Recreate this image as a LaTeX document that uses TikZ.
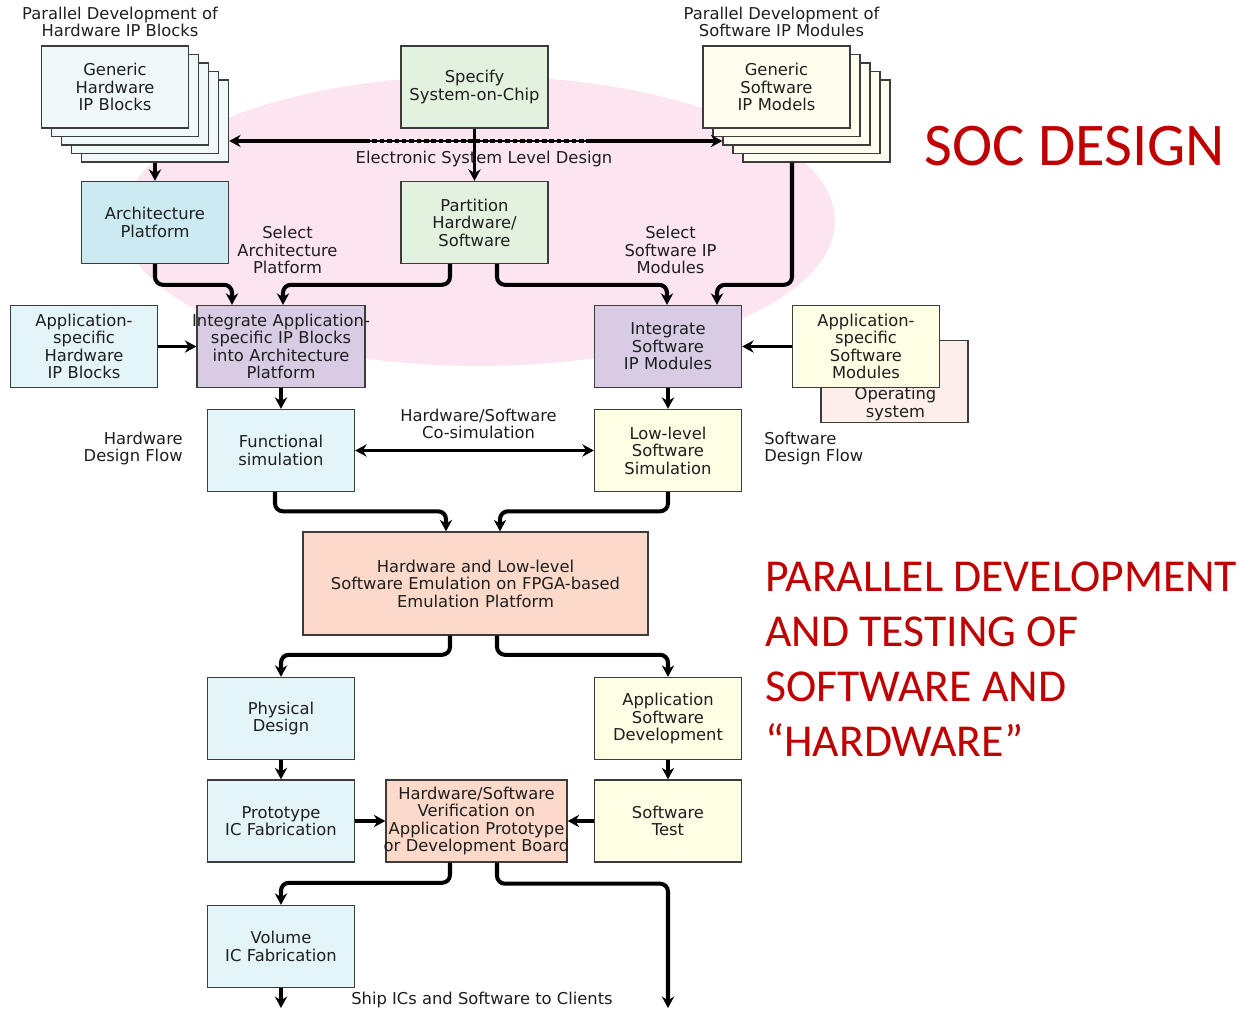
\documentclass[tikz,border=0pt]{standalone}
\usepackage{fontspec}
\setmainfont{DejaVu Sans}
\newfontfamily\titlefont{Carlito}
\usetikzlibrary{arrows.meta,calc}

\definecolor{socpink}{RGB}{252,228,240}
\definecolor{hwgenfill}{RGB}{240,248,250}
\definecolor{archfill}{RGB}{204,234,242}
\definecolor{specfill}{RGB}{226,242,222}
\definecolor{swgenfill}{RGB}{254,254,238}
\definecolor{intfill}{RGB}{216,204,228}
\definecolor{hwfill}{RGB}{228,245,249}
\definecolor{swfill}{RGB}{254,254,228}
\definecolor{osfill}{RGB}{253,238,233}
\definecolor{emufill}{RGB}{253,217,202}
\definecolor{boxline}{RGB}{60,60,60}
\definecolor{txt}{RGB}{30,30,30}
\definecolor{titlered}{RGB}{192,0,0}

\newcommand{\wideline}[1]{\makebox[\linewidth][c]{#1}}

\begin{document}
\begin{tikzpicture}[x=0.02cm, y=-0.02cm,
    box/.style={draw=boxline, line width=0.8pt, inner sep=0pt, align=center, text=txt,
      font=\fontsize{9.3}{10}\selectfont, minimum height=1.64cm, text width=2.94cm},
    flow/.style={line width=2.3pt, rounded corners=4.5pt, -{Stealth[length=6.5pt,width=7pt]}},
    note/.style={align=center, text=txt, font=\fontsize{9.3}{10}\selectfont, inner sep=0pt},
    title/.style={text=titlered, inner sep=0pt, align=left}]

  \useasboundingbox (0,0) rectangle (1252,1010);

  % SoC design area
  \fill[socpink] (478.5,221) ellipse [x radius=7.13cm, y radius=2.9cm];

  % stacks of generic IP
  \foreach \i in {4,3,2,1} {
    \node[box, fill=hwgenfill] (hwgen\i) at (115+10*\i,87+8.5*\i) {};
    \node[box, fill=swgenfill] (swgen\i) at (776.5+10*\i,87+8.5*\i) {};
  }
  \node[box, fill=hwgenfill] (hwgen) at (115,87) {Generic\\Hardware\\IP Blocks};
  \node[box, fill=swgenfill] (swgen) at (776.5,87) {Generic\\Software\\IP Models};
  \node[note] (hwpar) at (120,22) {Parallel Development of\\Hardware IP Blocks};
  \node[note] (swpar) at (781.5,22) {Parallel Development of\\Software IP Modules};

  % top row
  \node[box, fill=specfill] (soc) at (474.5,87) {Specify\\\wideline{System-on-Chip}};
  \node[box, fill=archfill] (arch) at (155,222.5) {Architecture\\Platform};
  \node[box, fill=specfill] (part) at (474.5,222.5) {Partition\\Hardware/\\Software};

  % electronic system level line
  \coordinate (esl) at (365,141);
  \coordinate (esr) at (590,141);
  \draw[line width=0.8pt] (esl) -- (esr);
  \draw[line width=2.1pt, dash pattern=on 2.6pt off 1.6pt] (esl) -- (esr);
  \draw[flow] (esl) -- (esl -| hwgen4.east);
  \draw[flow] (esr) -- (esr -| swgen2.west);
  \draw[flow, line width=2pt] (soc.south) -- (part.north);
  \node[note] (esltext) at (484,159) {Electronic System Level Design};
  \draw[flow, line width=2pt] (hwgen4.south) -- (arch.north);

  \node[note] (selarch) at (287.5,250) {Select\\Architecture\\Platform};
  \node[note] (selsw) at (670.5,250) {Select\\Software IP\\Modules};

  % integration row
  \node[box, fill=hwfill] (apphw) at (84,346.5) {Application-\\specific\\Hardware\\IP Blocks};
  \node[box, fill=intfill, text width=3.36cm] (inthw) at (281,346.5) {\wideline{Integrate Application-}\\\wideline{specific IP Blocks}\\\wideline{into Architecture}\\Platform};
  \node[box, fill=intfill] (intsw) at (668,346.5) {Integrate\\Software\\IP Modules};
  \node[box, fill=osfill] (os) at (894.5,381.5) {};
  \node[note] (ostext) at ($(os.south)+(1,-19)$) {Operating\\system};
  \node[box, fill=swfill] (appsw) at (866,346.5) {Application-\\specific\\Software\\Modules};

  \draw[flow] (arch.south) |- ($(inthw.north)+(-49,-20)$) -- ($(inthw.north)+(-49,0)$);
  \draw[flow] ($(part.south)+(-24.5,0)$) |- ($(inthw.north)+(2,-20)$) -- ($(inthw.north)+(2,0)$);
  \draw[flow] ($(part.south)+(22.5,0)$) |- ($(intsw.north)+(-1,-20)$) -- ($(intsw.north)+(-1,0)$);
  \draw[flow] ($(swgen4.south)+(-24.5,0)$) |- ($(intsw.north)+(49,-20)$) -- ($(intsw.north)+(49,0)$);
  \draw[flow, line width=2pt] (apphw.east) -- (inthw.west);
  \draw[flow, line width=2pt] (appsw.west) -- (intsw.east);

  % simulation row
  \node[box, fill=hwfill] (funcsim) at (281,450.5) {Functional\\simulation};
  \node[box, fill=swfill] (llsim) at (668,450.5) {Low-level\\Software\\Simulation};
  \draw[flow, line width=2pt] (inthw.south) -- (funcsim.north);
  \draw[flow, line width=2pt] (intsw.south) -- (llsim.north);
  \draw[flow, line width=2pt, {Stealth[length=6.5pt,width=7pt]}-{Stealth[length=6.5pt,width=7pt]}] (funcsim.east) -- (llsim.west);
  \node[note] (cosim) at (478.5,424) {Hardware/Software\\Co-simulation};
  \node[note, align=right, anchor=east] (hwflow) at (183,448.5) {Hardware\\Design Flow};
  \node[note, align=left, anchor=west] (swflow) at (764,448.5) {Software\\Design Flow};

  % emulation
  \node[box, fill=emufill, text width=6.9cm, minimum height=2.06cm] (emu) at (475.5,583.5) {Hardware and Low-level\\Software Emulation on FPGA-based\\Emulation Platform};
  \draw[flow] ($(funcsim.south)+(-6,0)$) |- ($(emu.north)+(-29.5,-20)$) -- ($(emu.north)+(-29.5,0)$);
  \draw[flow] (llsim.south) |- ($(emu.north)+(24.5,-20)$) -- ($(emu.north)+(24.5,0)$);

  % implementation
  \node[box, fill=hwfill] (phys) at (281,718.5) {Physical\\Design};
  \node[box, fill=swfill] (appdev) at (668,718.5) {Application\\Software\\Development};
  \node[box, fill=hwfill] (proto) at (281,821) {Prototype\\IC Fabrication};
  \node[box, fill=emufill, text width=3.62cm] (verif) at (476.5,821) {Hardware/Software\\Verification on\\\wideline{Application Prototype}\\\wideline{or Development Board}};
  \node[box, fill=swfill] (swtest) at (668,821) {Software\\Test};
  \node[box, fill=hwfill] (vol) at (281,946.5) {Volume\\IC Fabrication};

  \draw[flow] ($(emu.south)+(-25.5,0)$) |- ($(phys.north)+(0,-22)$) -- (phys.north);
  \draw[flow] ($(emu.south)+(21.5,0)$) |- ($(appdev.north)+(0,-22)$) -- (appdev.north);
  \draw[flow, line width=2pt] (phys.south) -- (proto.north);
  \draw[flow, line width=2pt] (appdev.south) -- (swtest.north);
  \draw[flow, line width=2pt] (proto.east) -- (verif.west);
  \draw[flow, line width=2pt] (swtest.west) -- (verif.east);

  % shipping
  \coordinate (volend) at (281,1008);
  \coordinate (shipend) at (668,1008);
  \draw[flow] ($(verif.south)+(-26.5,0)$) |- ($(vol.north)+(0,-22)$) -- (vol.north);
  \draw[flow] ($(verif.south)+(20.5,0)$) |- ($(swtest.south)+(0,21)$) -- (shipend);
  \draw[flow, line width=2pt] (vol.south) -- (volend);
  \node[note] (ship) at (482,1000) {Ship ICs and Software to Clients};

  % headings
  \node[title, font=\titlefont\fontsize{34.5}{40}\selectfont, anchor=base west] (soctitle) at (924,166) {SOC DESIGN};
  \node[title, font=\titlefont\fontsize{26}{31.3}\selectfont, anchor=north west] (partitle) at (765,562) {PARALLEL DEVELOPMENT\\AND TESTING OF\\SOFTWARE AND\\“HARDWARE”};

\end{tikzpicture}
\end{document}
